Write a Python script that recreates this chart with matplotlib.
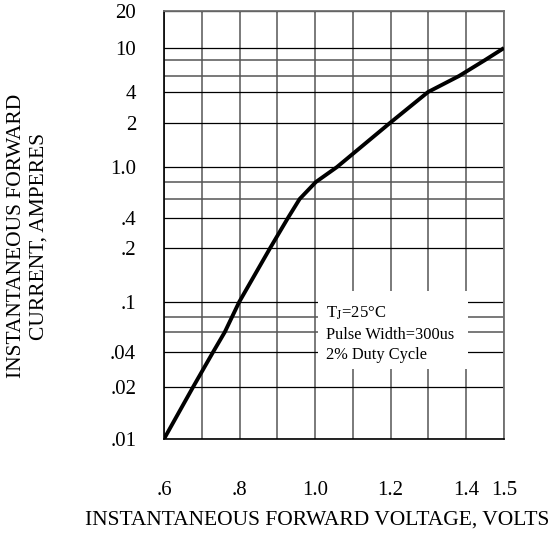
import numpy as np
import matplotlib.pyplot as plt
from matplotlib.patches import Rectangle

plt.rcParams['font.family'] = ['Liberation Serif', 'DejaVu Serif']
plt.rcParams['mathtext.fontset'] = 'stix'

# forward voltage (V) vs instantaneous forward current (A)
volts = [0.600, 0.677, 0.730, 0.761, 0.780, 0.799, 0.881, 0.928, 0.959,
         1.002, 1.058, 1.198, 1.299, 1.381, 1.450, 1.500]
amps = [0.01, 0.02, 0.04, 0.06, 0.08, 0.1, 0.2, 0.4, 0.6,
        0.8, 1.0, 2, 4, 6, 8, 10]

x_grid = [0.6, 0.7, 0.8, 0.9, 1.0, 1.1, 1.2, 1.3, 1.4, 1.5]
x_ticks = [0.6, 0.8, 1.0, 1.2, 1.4, 1.5]
x_labels = ['.6', '.8', '1.0', '1.2', '1.4', '1.5']

y_grid = [0.01, 0.02, 0.04, 0.06, 0.08, 0.1, 0.2, 0.4, 0.6, 0.8,
          1.0, 2, 4, 6, 8, 10, 20]
y_ticks = [0.01, 0.02, 0.04, 0.1, 0.2, 0.4, 1.0, 2, 4, 10, 20]
y_labels = ['.01', '.02', '.04', '.1', '.2', '.4', '1.0', '2', '4', '10', '20']

# the datasheet "log paper" is not a true log scale: height of each grid line
paper_h = [0, 52, 87, 107, 122, 137, 191, 221, 240, 257, 272,
           316, 347, 363, 379, 391, 428]

log_grid = np.log10(y_grid)
lg = np.concatenate([[-6.0], log_grid, [6.0]])
ph = np.concatenate([[paper_h[0] - 140 * (log_grid[0] + 6)], paper_h,
                     [paper_h[-1] + 120 * (6 - log_grid[-1])]])


def fwd(v):
    v = np.clip(np.asarray(v, dtype=float), 1e-6, 1e6)
    return np.interp(np.log10(v), lg, ph)


def inv(h):
    return 10 ** np.interp(np.asarray(h, dtype=float), ph, lg)


W, H = 556, 538
fig = plt.figure(figsize=(W / 100, H / 100), dpi=100)
ax = fig.add_axes([164 / W, 1 - 439 / H, 340 / W, 428 / H])
ax.set_yscale('function', functions=(fwd, inv))
ax.set_xlim(0.6, 1.5)
ax.set_ylim(0.01, 20)

for x in x_grid:
    ax.axvline(x, color='#707070', lw=1.3, zorder=1)
for y in y_grid:
    if y in y_ticks:
        ax.axhline(y, color='black', lw=0.9, zorder=1)
    else:
        ax.axhline(y, color='#555555', lw=1.1, zorder=1)

# white panel behind the test conditions
ax.add_patch(Rectangle((154 / 340, 70 / 428), 150 / 340, 78 / 428,
                       transform=ax.transAxes, facecolor='white',
                       edgecolor='none', zorder=2))

ax.plot(volts, amps, color='black', lw=2.8, zorder=3,
        solid_capstyle='butt', solid_joinstyle='round')

tx = 162 / 340
ax.text(tx, 126 / 428, r'T$_\mathrm{J}$=25°C', transform=ax.transAxes,
        fontsize=12, va='center', ha='left', zorder=4)
ax.text(tx, 104 / 428, 'Pulse Width=300us', transform=ax.transAxes,
        fontsize=11.8, va='center', ha='left', zorder=4)
ax.text(tx, 84 / 428, '2% Duty Cycle', transform=ax.transAxes,
        fontsize=11.8, va='center', ha='left', zorder=4)

ax.set_xticks(x_ticks, x_labels)
ax.set_yticks(y_ticks, y_labels)
ax.minorticks_off()
ax.tick_params(axis='both', length=0, labelsize=15)
ax.tick_params(axis='x', pad=30)
ax.tick_params(axis='y', pad=20)

for side in ['left', 'bottom']:
    ax.spines[side].set_color('black')
    ax.spines[side].set_linewidth(1.2)
for side in ['top', 'right']:
    ax.spines[side].set_color('#707070')
    ax.spines[side].set_linewidth(1.3)

fig.text(317 / W, 1 - 520 / H, 'INSTANTANEOUS FORWARD VOLTAGE, VOLTS',
         fontsize=15.5, ha='center', va='center')
fig.text(28 / W, 1 - 236 / H, 'INSTANTANEOUS FORWARD\nCURRENT, AMPERES',
         fontsize=15.5, ha='center', va='center', rotation=90,
         multialignment='center', linespacing=1.25)

fig.savefig('out.png', dpi=100)
